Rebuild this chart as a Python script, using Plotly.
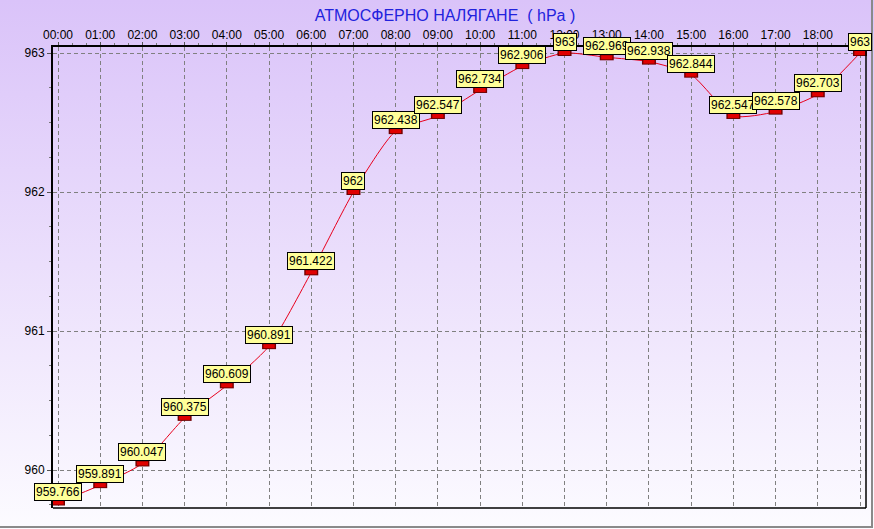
import base64
import plotly.graph_objects as go

hours = ["00:00", "01:00", "02:00", "03:00", "04:00", "05:00", "06:00", "07:00",
         "08:00", "09:00", "10:00", "11:00", "12:00", "13:00", "14:00", "15:00",
         "16:00", "17:00", "18:00", "19:00"]
pressure = [959.766, 959.891, 960.047, 960.375, 960.609, 960.891, 961.422, 962.0,
            962.438, 962.547, 962.734, 962.906, 963.0, 962.969, 962.938, 962.844,
            962.547, 962.578, 962.703, 963.0]
y_ticks = [960, 961, 962, 963]
title_text = "АТМОСФЕРНО НАЛЯГАНЕ  ( hPa )"

W, H = 874, 529
L, R, T, B = 53, 8, 47, 21
pw, ph = W - L - R, H - T - B

xpos = list(range(len(hours)))

svg = (
    f'<svg xmlns="http://www.w3.org/2000/svg" width="{W}" height="{H}" preserveAspectRatio="none">'
    '<defs><linearGradient id="g" x1="0" y1="0" x2="0" y2="1">'
    '<stop offset="0" stop-color="#DAC3F9"/>'
    '<stop offset="1" stop-color="#FCFBFF"/>'
    '</linearGradient></defs>'
    f'<rect x="0" y="0" width="{W}" height="{H}" fill="url(#g)"/></svg>'
)
bg_src = "data:image/svg+xml;base64," + base64.b64encode(svg.encode()).decode()

fig = go.Figure()

fig.add_trace(go.Scatter(
    x=xpos, y=pressure, mode="lines",
    line=dict(color="#E8001C", width=1, shape="spline", smoothing=0.6),
    hoverinfo="skip", showlegend=False, cliponaxis=False,
))
fig.add_trace(go.Scatter(
    x=xpos, y=pressure, mode="markers",
    marker=dict(symbol="line-ew", size=10, line=dict(color="#700000", width=6)),
    hoverinfo="skip", showlegend=False, cliponaxis=False,
))
fig.add_trace(go.Scatter(
    x=xpos, y=pressure, mode="markers",
    marker=dict(symbol="line-ew", size=8, line=dict(color="#E00000", width=4)),
    hoverinfo="x+y", showlegend=False, cliponaxis=False,
))

for xi, v in zip(xpos, pressure):
    fig.add_annotation(
        x=xi, y=v, text=f"{v:g}", showarrow=False,
        xanchor="center", yanchor="bottom", yshift=2,
        bgcolor="#FFFF99", bordercolor="#000000", borderwidth=1, borderpad=1,
        font=dict(family="Arial, Liberation Sans, sans-serif", size=12, color="#000000"),
    )

fig.update_layout(
    width=W, height=H,
    margin=dict(l=L, r=R, t=T, b=B, autoexpand=False),
    paper_bgcolor="#F4EEFD",
    plot_bgcolor="rgba(0,0,0,0)",
    font=dict(family="Arial, Liberation Sans, sans-serif", size=12, color="#000000"),
    title=dict(text=title_text, x=445 / W, xref="container", xanchor="center",
               y=1 - 15 / H, yref="container", yanchor="middle",
               font=dict(size=16, color="#2222DD")),
    showlegend=False,
    images=[dict(source=bg_src, xref="paper", yref="paper",
                 x=-L / pw, y=1 + T / ph, sizex=W / pw, sizey=H / ph,
                 xanchor="left", yanchor="top", sizing="stretch", layer="below")],
    xaxis=dict(
        range=[-5 / 42.2, 19 + 6 / 42.2], side="top", automargin=False,
        tickmode="array", tickvals=xpos, ticktext=hours,
        showgrid=True, gridcolor="#808080", griddash="4px,3px", gridwidth=1,
        showline=True, linecolor="#000000", linewidth=2,
        ticks="outside", ticklen=3, tickcolor="#555555", ticklabelstandoff=-2,
        zeroline=False, fixedrange=True,
        minor=dict(dtick=1/3, ticks="outside", ticklen=2, tickcolor="#777777", showgrid=False),
    ),
    yaxis=dict(
        range=[960 - 38 / 139, 963 + 6 / 139], automargin=False,
        tickmode="array", tickvals=y_ticks, ticktext=[str(t) for t in y_ticks],
        showgrid=True, gridcolor="#808080", griddash="4px,3px", gridwidth=1,
        showline=True, linecolor="#000000", linewidth=2,
        ticks="outside", ticklen=4, tickcolor="#555555",
        zeroline=False, fixedrange=True,
        minor=dict(dtick=0.25, ticks="outside", ticklen=2, tickcolor="#777777", showgrid=False),
    ),
    shapes=[
        dict(type="line", xref="paper", yref="paper", x0=1, x1=1, y0=0, y1=1,
             line=dict(color="#000000", width=1.5)),
        dict(type="line", xref="paper", yref="paper", x0=0, x1=1, y0=0, y1=0,
             line=dict(color="#000000", width=1.5)),
        dict(type="line", xref="paper", yref="paper",
             x0=(W - 2 - L) / pw, x1=(W - 2 - L) / pw, y0=-(B - 1) / ph, y1=1 + T / ph,
             line=dict(color="#8A8A8A", width=2)),
        dict(type="line", xref="paper", yref="paper",
             x0=-L / pw, x1=(W - 2 - L) / pw, y0=-(B - 2) / ph, y1=-(B - 2) / ph,
             line=dict(color="#8A8A8A", width=2)),
    ],
)

fig.write_html("out.html", config={"displayModeBar": False},
               post_script="document.body.style.margin='0';document.body.style.overflow='hidden';")
